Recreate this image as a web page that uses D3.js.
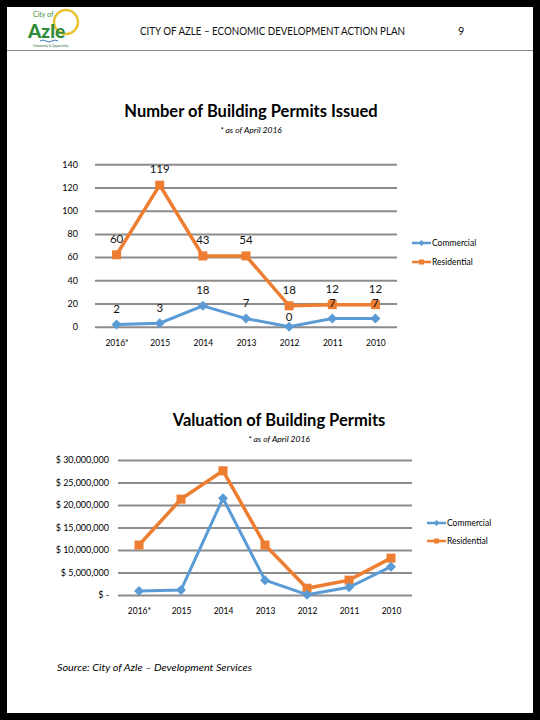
<!DOCTYPE html>
<html><head><meta charset="utf-8">
<script src="https://cdn.jsdelivr.net/npm/d3@7"></script>
<style>html,body{margin:0;padding:0;background:#000;}svg{display:block;}</style>
</head><body>
<svg id="c" width="540" height="720"></svg>
<script>
// ---- data ----
const years = ["2016*", "2015", "2014", "2013", "2012", "2011", "2010"];
const permitsCommercial = [2, 3, 18, 7, 0, 7, 7];
const permitsResidential = [60, 119, 43, 54, 18, 12, 12];
const permitTicks = [0, 20, 40, 60, 80, 100, 120, 140];
const valueCommercial = [900000, 1100000, 21500000, 3300000, 50000, 1700000, 6300000];
const valueResidential = [10200000, 20200000, 6100000, 7800000, 1450000, 1600000, 1900000];
const valueTicks = [0, 5000000, 10000000, 15000000, 20000000, 25000000, 30000000];
const seriesNames = ["Commercial", "Residential"];
const seriesColors = ["#5B9BD5", "#ED7D31"];

const svg = d3.select("#c");
const font = "Lato, 'Open Sans', sans-serif";

// page
svg.append("rect").attr("x", 7).attr("y", 7).attr("width", 526).attr("height", 706).attr("fill", "#fff");

// header
const logo = svg.append("g");
logo.append("circle").attr("cx", 66).attr("cy", 22).attr("r", 12).attr("fill", "none").attr("stroke", "#E8C232").attr("stroke-width", 2.5);
logo.append("text").attr("x", 33).attr("y", 17).attr("font-family", font).attr("font-size", 7).attr("fill", "#3E8E3A").text("City of");
logo.append("text").attr("x", 28).attr("y", 38).attr("font-family", font).attr("font-weight", 900).attr("font-size", 19).attr("fill", "#2E8B3A").text("Azle");
logo.append("path").attr("d", "M40 41 q3 -2 6 0 t6 0 t6 0").attr("fill", "none").attr("stroke", "#3A7BBF").attr("stroke-width", 1);
logo.append("text").attr("x", 33).attr("y", 47).attr("font-family", font).attr("font-size", 3).attr("fill", "#2E6B3A").text("Community & Opportunity");

svg.append("text").attr("x", 140).attr("y", 35).attr("font-family", font).attr("font-size", 10.5)
  .attr("textLength", 265).attr("lengthAdjust", "spacingAndGlyphs").attr("fill", "#111")
  .text("CITY OF AZLE \u2013 ECONOMIC DEVELOPMENT ACTION PLAN");
svg.append("text").attr("x", 458).attr("y", 35).attr("font-family", font).attr("font-size", 11).attr("fill", "#111").text("9");
svg.append("line").attr("x1", 7).attr("x2", 533).attr("y1", 50.5).attr("y2", 50.5).attr("stroke", "#8a8a8a").attr("stroke-width", 1);

function diamond(g, x, y, color, s) {
  g.append("path").attr("d", `M${x},${y - s}L${x + s},${y}L${x},${y + s}L${x - s},${y}Z`).attr("fill", color);
}
function square(g, x, y, color, s) {
  g.append("rect").attr("x", x - s).attr("y", y - s).attr("width", 2 * s).attr("height", 2 * s).attr("fill", color);
}

function drawChart(cfg) {
  const g = svg.append("g");
  const x = d3.scalePoint().domain(years).range([cfg.x0, cfg.x1]).padding(0.5);
  const y = d3.scaleLinear().domain([0, cfg.max]).range([cfg.yBottom, cfg.yTop]);

  // title
  g.append("text").attr("x", cfg.titleX).attr("y", cfg.titleY).attr("text-anchor", "middle")
    .attr("font-family", font).attr("font-weight", 700).attr("font-size", 16.5).attr("fill", "#000").text(cfg.title);
  g.append("text").attr("x", cfg.titleX).attr("y", cfg.titleY + 16).attr("text-anchor", "middle")
    .attr("font-family", font).attr("font-style", "italic").attr("font-size", 8.5).attr("fill", "#000").text("* as of April 2016");

  // grid
  const yAxis = d3.axisLeft(y).tickValues(cfg.ticks).tickSize(-(cfg.x1 - cfg.x0)).tickPadding(cfg.tickPad).tickFormat(cfg.fmt);
  const ya = g.append("g").attr("transform", `translate(${cfg.x0},0)`).call(yAxis);
  ya.select(".domain").remove();
  ya.selectAll(".tick line").attr("stroke", "#8c8c8c").attr("stroke-width", 2);
  ya.selectAll(".tick text").attr("font-family", font).attr("font-size", 9).attr("fill", "#000");

  const xAxis = d3.axisBottom(x).tickSize(0).tickPadding(cfg.xPad);
  const xa = g.append("g").attr("transform", `translate(0,${cfg.yBottom})`).call(xAxis);
  xa.select(".domain").remove();
  xa.selectAll(".tick text").attr("font-family", font).attr("font-size", 8.5).attr("fill", "#000");

  // stacked totals
  const totals = cfg.com.map((v, i) => v + cfg.res[i]);
  const line = d3.line().x((d, i) => x(years[i])).y(d => y(d));
  g.append("path").datum(totals).attr("d", line).attr("fill", "none").attr("stroke", seriesColors[1]).attr("stroke-width", 3.5).attr("stroke-linejoin", "miter");
  totals.forEach((v, i) => square(g, x(years[i]), y(v), seriesColors[1], 4.5));
  g.append("path").datum(cfg.com).attr("d", line).attr("fill", "none").attr("stroke", seriesColors[0]).attr("stroke-width", 3);
  cfg.com.forEach((v, i) => diamond(g, x(years[i]), y(v), seriesColors[0], 5));

  if (cfg.labels) {
    totals.forEach((v, i) => g.append("text").attr("x", x(years[i])).attr("y", y(v) - 12).attr("text-anchor", "middle")
      .attr("font-family", font).attr("font-size", 11.5).attr("fill", "#111").text(cfg.res[i]));
    cfg.com.forEach((v, i) => g.append("text").attr("x", x(years[i])).attr("y", y(v) - (v === 0 ? 6 : 11.5)).attr("text-anchor", "middle")
      .attr("font-family", font).attr("font-size", 11.5).attr("fill", "#111").text(v));
  }

  // legend
  seriesNames.forEach((n, i) => {
    const ly = cfg.legY + i * cfg.legGap;
    g.append("line").attr("x1", cfg.legX).attr("x2", cfg.legX + 19).attr("y1", ly).attr("y2", ly).attr("stroke", seriesColors[i]).attr("stroke-width", 2.5);
    if (i === 0) diamond(g, cfg.legX + 9.5, ly, seriesColors[0], 3); else square(g, cfg.legX + 9.5, ly, seriesColors[1], 2.5);
    g.append("text").attr("x", cfg.legX + 20).attr("y", ly + 3).attr("font-family", font).attr("font-size", 8.5).attr("fill", "#000").text(n);
  });
}

drawChart({
  title: "Number of Building Permits Issued", titleX: 251, titleY: 117,
  x0: 95, x1: 397, yBottom: 326.7, yTop: 164.3, max: 140, ticks: permitTicks,
  fmt: d3.format("d"), tickPad: 17, xPad: 13, com: permitsCommercial, res: permitsResidential, labels: true,
  legX: 412, legY: 243, legGap: 19
});

drawChart({
  title: "Valuation of Building Permits", titleX: 279, titleY: 426,
  x0: 118, x1: 412, yBottom: 595, yTop: 460, max: 30000000, ticks: valueTicks,
  fmt: d => d === 0 ? "$ -" : "$ " + d3.format(",")(d), tickPad: 9, xPad: 13,
  com: valueCommercial, res: valueResidential, labels: false,
  legX: 427, legY: 523, legGap: 18
});

svg.append("text").attr("x", 57).attr("y", 671).attr("font-family", font).attr("font-style", "italic").attr("font-size", 10)
  .attr("textLength", 195).attr("lengthAdjust", "spacingAndGlyphs").attr("fill", "#000")
  .text("Source:  City of Azle \u2013 Development Services");
</script>
</body></html>
